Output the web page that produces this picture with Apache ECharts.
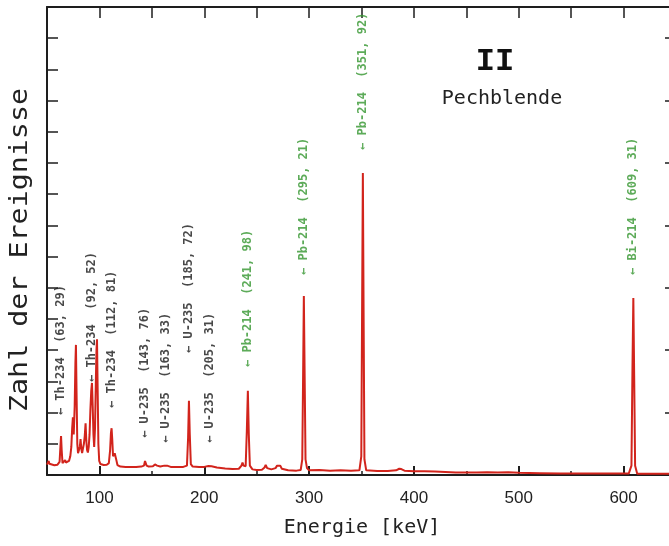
<!DOCTYPE html>
<html>
<head>
    <meta charset="utf-8">
    <script src="https://cdn.jsdelivr.net/npm/echarts@6/dist/echarts.min.js"></script>
</head>
<body style="margin:0;background:#fff;">
<div id="main" style="width: 669px;height:546px;"></div>
<script type="text/javascript">
    // Spektrum (Energie in keV, Zählrate in willkürlichen Einheiten)
    var specE = [50, 51, 51.6, 52.3, 54, 57, 60, 62, 62.8, 63.4, 64, 64.8, 66, 67.3, 68, 69.5, 71, 72.2, 73.2, 74,
        74.7, 75.5, 76.4, 77.1, 77.6, 78.2, 78.9, 79.6, 80.5, 81.3, 82, 82.7, 83.5, 84.3, 85.2, 86, 86.8, 87.5, 88.2, 89,
        89.8, 90.6, 91.4, 92.2, 92.9, 93.6, 94.3, 95, 95.8, 96.6, 97.2, 97.7, 98.3, 99, 99.8, 101, 104, 107, 109, 110.2,
        111, 111.6, 112.3, 113, 113.8, 114.6, 115.3, 116, 117.2, 120, 125, 130, 135, 140, 142.5, 143.5, 144.2, 145, 147, 151,
        153, 154, 155, 158, 162, 163.5, 164.5, 168, 175, 180, 183.5, 184.6, 185.4, 186.2, 187.2, 189, 195, 200, 204, 205.5,
        207, 212, 220, 227, 233, 235.5, 236.5, 237.5, 239.5, 240.6, 241.6, 242.5, 243.5, 246, 250, 255, 257.5, 258.6, 260, 264,
        268, 269.5, 271, 272.5, 274, 280, 288, 292, 293.5, 294.3, 295, 295.7, 296.6, 298, 300, 310, 320, 330, 340, 348,
        349.8, 350.6, 351.3, 352, 352.8, 354.5, 365, 375, 383, 386, 388, 391, 400, 410, 420, 430, 440, 460, 470, 480,
        490, 500, 520, 540, 560, 580, 600, 605, 607.5, 608.5, 609.3, 610.1, 611, 613, 630, 650];
    var specN = [0.33, 0.38, 0.45, 0.36, 0.32, 0.31, 0.33, 0.42, 0.9, 1.25, 0.8, 0.38, 0.36, 0.48, 0.4, 0.42, 0.45, 0.6, 0.9, 1.5,
        1.85, 1.3, 2.2, 3.6, 4.17, 2.6, 1.0, 0.7, 0.75, 0.9, 1.15, 0.85, 0.7, 0.85, 1.0, 1.25, 1.66, 1.1, 0.8, 0.72,
        0.9, 1.3, 2.1, 2.7, 2.95, 2.2, 1.3, 0.9, 1.5, 3.0, 4.0, 4.35, 2.8, 1.0, 0.45, 0.35, 0.32, 0.33, 0.38, 0.8,
        1.35, 1.5, 1.1, 0.6, 0.55, 0.7, 0.72, 0.5, 0.32, 0.27, 0.26, 0.26, 0.26, 0.27, 0.3, 0.45, 0.48, 0.3, 0.27, 0.28,
        0.34, 0.38, 0.3, 0.27, 0.3, 0.36, 0.3, 0.26, 0.26, 0.26, 0.3, 1.2, 2.38, 1.3, 0.35, 0.27, 0.26, 0.26, 0.29, 0.33,
        0.28, 0.24, 0.21, 0.19, 0.2, 0.3, 0.4, 0.3, 0.28, 1.4, 2.7, 1.3, 0.3, 0.18, 0.16, 0.17, 0.24, 0.32, 0.22, 0.18,
        0.22, 0.3, 0.27, 0.3, 0.2, 0.15, 0.14, 0.16, 0.5, 3.2, 5.74, 3.4, 0.5, 0.22, 0.15, 0.16, 0.14, 0.15, 0.14, 0.15,
        0.6, 5.5, 9.68, 5.2, 0.5, 0.15, 0.13, 0.13, 0.15, 0.2, 0.19, 0.14, 0.12, 0.12, 0.11, 0.1, 0.08, 0.08, 0.09, 0.08,
        0.09, 0.07, 0.06, 0.05, 0.05, 0.05, 0.05, 0.05, 0.3, 3.5, 5.67, 3.2, 0.3, 0.04, 0.04, 0.04];

    // Linien-Beschriftungen
    var annText = ['Th-234', 'Th-234', 'Th-234', 'U-235', 'U-235', 'U-235', 'U-235',
        'Pb-214', 'Pb-214', 'Pb-214', 'Bi-214'];
    var annValue = ['(63, 29)', '(92, 52)', '(112, 81)', '(143, 76)', '(163, 33)', '(185, 72)', '(205, 31)',
        '(241, 98)', '(295, 21)', '(351, 92)', '(609, 31)'];
    var annE = [63.3, 92.6, 112, 143.8, 163.3, 185.7, 205.3, 241.6, 295.2, 351.3, 609.3];
    var annY = [1.92, 2.98, 2.15, 1.19, 1.03, 3.91, 1.03, 3.46, 6.41, 10.42, 6.41];
    var annGreen = [false, false, false, false, false, false, false, true, true, true, true];

    // Achsen
    var xMajor = [100, 200, 300, 400, 500, 600];
    var xMinor = [50, 150, 250, 350, 450, 550, 650];
    var xTop = [50, 100, 150, 200, 250, 300, 350, 400, 450, 500, 550, 600, 650];

    var spec = [];
    for (let i = 0; i < specE.length; i++) {
        spec.push([specE[i], specN[i]]);
    }
    var ann = [];
    for (let i = 0; i < annE.length; i++) {
        ann.push({
            value: [annE[i], annY[i]],
            label: {color: annGreen[i] ? '#34962f' : '#1a1a1a'},
            name: '\u2190 ' + annText[i] + '  ' + annValue[i]
        });
    }

    var myChart = echarts.init(document.getElementById('main'));
    var axisCol = '#1e1e1e';
    var mono = '"DejaVu Sans Mono", monospace';

    myChart.setOption({
        backgroundColor: '#fff',
        animation: false,
        grid: {left: 47, top: 7, width: 629, height: 468, outerBoundsMode: 'none', containLabel: false},
        xAxis: [{
            type: 'value', position: 'bottom', min: 50, max: 650,
            axisLine: {lineStyle: {color: axisCol, width: 2}},
            axisTick: {inside: true, length: 9, customValues: xMajor, lineStyle: {color: axisCol, width: 2}},
            axisLabel: {customValues: xMajor, margin: 15, fontSize: 17, color: '#222', fontFamily: 'Liberation Sans'},
            splitLine: {show: false}
        }, {
            type: 'value', position: 'bottom', min: 50, max: 650,
            axisLine: {show: false},
            axisTick: {inside: true, length: 4, customValues: xMinor, lineStyle: {color: axisCol, width: 1.5}},
            axisLabel: {show: false},
            splitLine: {show: false}
        }, {
            type: 'value', position: 'top', min: 50, max: 650,
            axisLine: {lineStyle: {color: axisCol, width: 2}},
            axisTick: {inside: true, length: 11, customValues: xTop, lineStyle: {color: axisCol, width: 1.5}},
            axisLabel: {show: false},
            splitLine: {show: false}
        }],
        yAxis: [{
            type: 'value', position: 'left', min: 0, max: 15, interval: 1,
            axisLine: {show: true, lineStyle: {color: axisCol, width: 2}},
            axisTick: {show: true, inside: true, length: 11, lineStyle: {color: axisCol, width: 1.5}},
            axisLabel: {show: false},
            splitLine: {show: false}
        }, {
            type: 'value', position: 'right', min: 0, max: 15, interval: 2,
            axisLine: {show: true, lineStyle: {color: axisCol, width: 2}},
            axisTick: {show: true, inside: true, length: 11, lineStyle: {color: axisCol, width: 1.5}},
            axisLabel: {show: false},
            splitLine: {show: false}
        }],
        graphic: [{
            type: 'text', x: 362, y: 528,
            style: {text: 'Energie [keV]', font: '20px ' + mono, fill: '#222', textAlign: 'center', textVerticalAlign: 'middle'}
        }, {
            type: 'text', x: 21, y: 250, rotation: Math.PI / 2, scaleX: 1.18,
            style: {text: 'Zahl der Ereignisse', font: '24px ' + mono, fill: '#222', textAlign: 'center', textVerticalAlign: 'middle'}
        }, {
            type: 'text', x: 495, y: 62,
            style: {text: 'II', font: 'bold 32px "Liberation Mono", monospace', fill: '#111', textAlign: 'center', textVerticalAlign: 'middle'}
        }, {
            type: 'text', x: 502, y: 99,
            style: {text: 'Pechblende', font: '20px ' + mono, fill: '#222', textAlign: 'center', textVerticalAlign: 'middle'}
        }],
        series: [{
            type: 'line',
            data: spec,
            showSymbol: false,
            lineStyle: {color: '#d2241c', width: 2},
            z: 3
        }, {
            type: 'scatter',
            data: ann,
            symbolSize: 1,
            itemStyle: {color: 'rgba(0,0,0,0)'},
            label: {
                show: true, position: 'inside', rotate: 90, formatter: '{b}',
                align: 'left', verticalAlign: 'middle',
                fontFamily: mono, fontSize: 12, fontWeight: 'bold'
            },
            z: 4
        }]
    });
</script>
</body>
</html>
